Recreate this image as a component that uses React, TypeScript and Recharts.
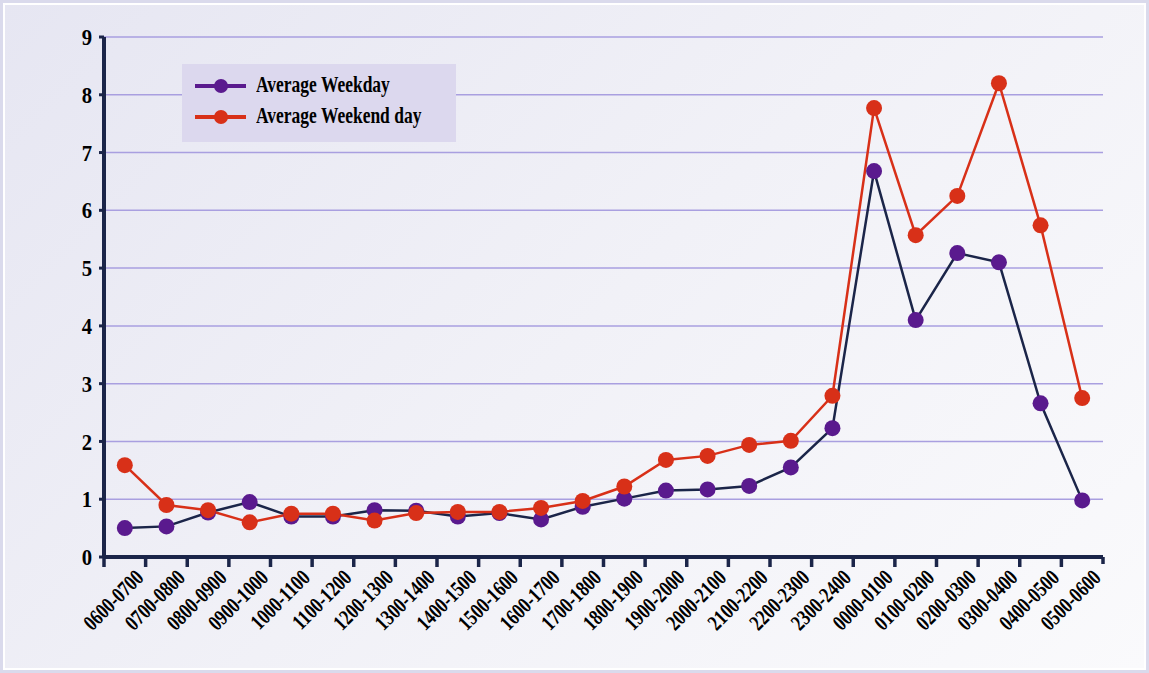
import React from "react";
import { LineChart, Line, XAxis, YAxis, CartesianGrid } from "recharts";

const categories = [
  "0600-0700", "0700-0800", "0800-0900", "0900-1000", "1000-1100", "1100-1200",
  "1200-1300", "1300-1400", "1400-1500", "1500-1600", "1600-1700", "1700-1800",
  "1800-1900", "1900-2000", "2000-2100", "2100-2200", "2200-2300", "2300-2400",
  "0000-0100", "0100-0200", "0200-0300", "0300-0400", "0400-0500", "0500-0600",
];
const weekday = [
  0.5, 0.53, 0.77, 0.95, 0.7, 0.7, 0.81, 0.8, 0.7, 0.76, 0.65, 0.87,
  1.01, 1.15, 1.17, 1.23, 1.55, 2.23, 6.68, 4.1, 5.26, 5.1, 2.66, 0.98,
];
const weekend = [
  1.59, 0.9, 0.81, 0.6, 0.75, 0.75, 0.63, 0.76, 0.78, 0.78, 0.85, 0.97,
  1.22, 1.68, 1.75, 1.94, 2.01, 2.79, 7.77, 5.57, 6.25, 8.2, 5.74, 2.75,
];
const yTicks = [0, 1, 2, 3, 4, 5, 6, 7, 8, 9];
const seriesNames = ["Average Weekday", "Average Weekend day"];

const data = categories.map((c, i) => ({ cat: c, weekday: weekday[i], weekend: weekend[i] }));

const W = 1149;
const H = 673;
const M = { top: 37, right: 46, bottom: 0, left: 0 };
const Y_W = 104;
const X_H = 116;
const PLOT_W = W - M.left - M.right - Y_W;
const BW = PLOT_W / categories.length;

const NAVY = "#1b2549";
const PURPLE = "#5a1a8e";
const RED = "#d83018";
const FONT = "'Liberation Serif', 'DejaVu Serif', serif";

const XTick = (props: any) => {
  const { x, y, payload, index } = props;
  const last = index === categories.length - 1;
  return (
    <g>
      <line x1={x - BW / 2} x2={x - BW / 2} y1={y} y2={y + 10} stroke={NAVY} strokeWidth={3.5} />
      {last && <line x1={x + BW / 2} x2={x + BW / 2} y1={y} y2={y + 7} stroke={NAVY} strokeWidth={3.5} />}
      <text
        transform={`translate(${x + 9},${y + 11}) rotate(-45) scale(0.78,1)`}
        textAnchor="end"
        dy="0.7em"
        fontFamily={FONT}
        fontWeight="bold"
        fontSize={22}
        fill="#000"
      >
        {payload.value}
      </text>
    </g>
  );
};

const YTick = (props: any) => {
  const { x, y, payload } = props;
  return (
    <text
      transform={`translate(${x - 3},${y}) scale(0.9,1)`}
      textAnchor="end"
      dy="0.35em"
      fontFamily={FONT}
      fontWeight="bold"
      fontSize={23}
      fill="#000"
    >
      {payload.value}
    </text>
  );
};

const legendColors = [PURPLE, RED];

const LegendBox = () => (
  <div style={{ position: "absolute", left: 182, top: 64, width: 274, height: 78, background: "#dcd8ee" }}>
    {seriesNames.map((name, i) => (
      <div key={i} style={{ position: "absolute", left: 0, top: 22 + i * 31 - 12, height: 24, width: 274 }}>
        <svg width={60} height={24} style={{ position: "absolute", left: 12, top: 0 }}>
          <line x1={1} x2={52} y1={12} y2={12} stroke={legendColors[i]} strokeWidth={4} />
          <circle cx={27} cy={12} r={7} fill={legendColors[i]} />
        </svg>
        <span
          style={{
            position: "absolute",
            left: 74,
            top: -1,
            fontFamily: FONT,
            fontWeight: "bold",
            fontSize: 23,
            color: "#000",
            whiteSpace: "nowrap",
            transform: "scaleX(0.76)",
            transformOrigin: "left center",
            lineHeight: "24px",
          }}
        >
          {name}
        </span>
      </div>
    ))}
  </div>
);

export default function App() {
  return (
    <div
      style={{
        position: "absolute",
        left: 0,
        top: 0,
        width: W,
        height: H,
        boxSizing: "border-box",
        border: "3px solid #dadaec",
        boxShadow: "inset 0 0 0 2px #ffffff",
        background: "linear-gradient(135deg, #e6e6f2 0%, #f1f1f7 50%, #fafafc 100%)",
        overflow: "hidden",
      }}
    >
      <div style={{ position: "absolute", left: -3, top: -3 }}>
        <LineChart width={W} height={H} data={data} margin={M}>
          <CartesianGrid vertical={false} stroke="#a99fe0" strokeWidth={1.5} />
          <XAxis
            dataKey="cat"
            scale="band"
            height={X_H}
            interval={0}
            tickLine={false}
            tickSize={0}
            tickMargin={0}
            axisLine={{ stroke: NAVY, strokeWidth: 4 }}
            tick={<XTick />}
          />
          <YAxis
            width={Y_W}
            domain={[0, 9]}
            ticks={yTicks}
            interval={0}
            tickSize={5}
            tickMargin={4}
            tickLine={{ stroke: NAVY, strokeWidth: 3 }}
            axisLine={{ stroke: NAVY, strokeWidth: 4 }}
            tick={<YTick />}
          />
          <Line
            type="linear"
            dataKey="weekday"
            name={seriesNames[0]}
            stroke={NAVY}
            strokeWidth={2.5}
            dot={{ r: 8, fill: PURPLE, stroke: "none", strokeWidth: 0 }}
            activeDot={false}
            isAnimationActive={false}
          />
          <Line
            type="linear"
            dataKey="weekend"
            name={seriesNames[1]}
            stroke={RED}
            strokeWidth={2.5}
            dot={{ r: 8, fill: RED, stroke: "none", strokeWidth: 0 }}
            activeDot={false}
            isAnimationActive={false}
          />
        </LineChart>
        <LegendBox />
      </div>
    </div>
  );
}
